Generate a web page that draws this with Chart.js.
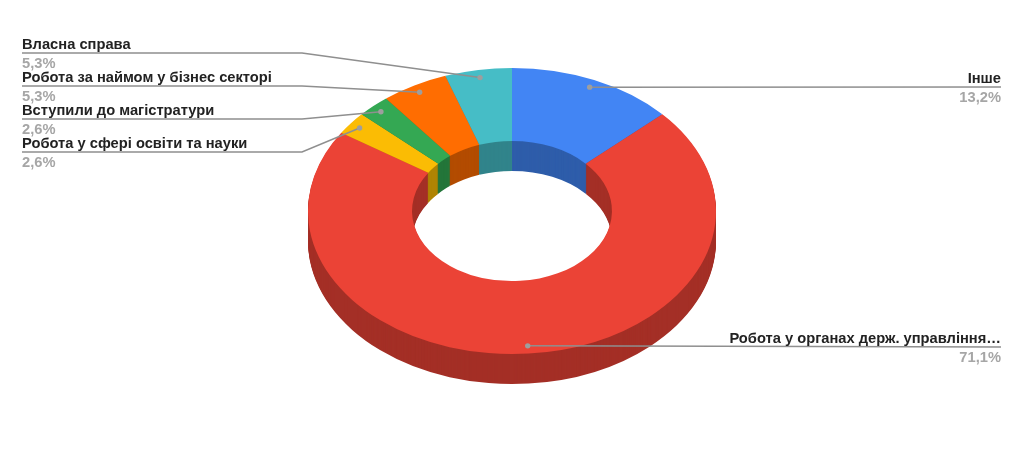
<!DOCTYPE html>
<html>
<head>
<meta charset="utf-8">
<style>
  html, body { margin: 0; padding: 0; background: #fff; }
  canvas { display: block; }
</style>
<script src="https://cdn.jsdelivr.net/npm/chart.js@4/dist/chart.umd.js"></script>
</head>
<body>
<canvas id="chart" width="1024" height="454"></canvas>
<script>
const categories = [
  'Інше',
  'Робота у органах держ. управління…',
  'Робота у сфері освіти та науки',
  'Вступили до магістратури',
  'Робота за наймом у бізнес секторі',
  'Власна справа'
];
const shares = [13.2, 71.1, 2.6, 2.6, 5.3, 5.3];
const valueLabels = ['13,2%', '71,1%', '2,6%', '2,6%', '5,3%', '5,3%'];

const topColors = ['#4285f4', '#eb4336', '#fbbc04', '#34a853', '#ff6d01', '#46bdc6'];
const wallColors = ['#2e5daa', '#a42f26', '#b08403', '#24763a', '#b34c01', '#31848b'];

// where each label sits: side, y of the leader's horizontal run
const labelSide = ['right', 'right', 'left', 'left', 'left', 'left'];
const labelLineY = [87, 347, 152, 119, 86, 53];

const SQUASH = 0.701;   // pie tilt
const DEPTH = 30;       // height of the extruded wall
const LEFT_X = 22, RIGHT_X = 1001, ELBOW_X = 302;
const ANCHOR_R = 0.946; // leader dot, as a part of the outer radius

const donut3d = {
  id: 'donut3d',
  beforeDatasetsDraw(chart) {
    const ctx = chart.ctx;
    const arcs = chart.getDatasetMeta(0).data;
    const cx = arcs[0].x, cy = arcs[0].y;
    ctx.save();
    ctx.translate(cx, cy);
    ctx.scale(1, SQUASH);
    ctx.translate(-cx, -cy);
    // wall: the same arcs stacked downwards, far layer first
    for (let d = DEPTH; d > 0; d--) {
      ctx.save();
      ctx.translate(0, d / SQUASH);
      arcs.forEach((arc, i) => {
        const own = arc.options;
        arc.options = { ...own, backgroundColor: wallColors[i] };
        arc.draw(ctx);
        arc.options = own;
      });
      ctx.restore();
    }
    arcs.forEach(arc => arc.draw(ctx));
    ctx.restore();
    return false;
  },
  afterDraw(chart) {
    const ctx = chart.ctx;
    const arcs = chart.getDatasetMeta(0).data;
    ctx.save();
    ctx.textBaseline = 'alphabetic';
    arcs.forEach((arc, i) => {
      const mid = (arc.startAngle + arc.endAngle) / 2;
      const ax = arc.x + Math.cos(mid) * arc.outerRadius * ANCHOR_R;
      const ay = arc.y + Math.sin(mid) * arc.outerRadius * ANCHOR_R * SQUASH;
      const y = labelLineY[i];
      const right = labelSide[i] === 'right';

      ctx.strokeStyle = '#8f8f8f';
      ctx.lineWidth = 1.5;
      ctx.beginPath();
      ctx.moveTo(ax, ay);
      if (right) {
        ctx.lineTo(RIGHT_X, y);
      } else {
        ctx.lineTo(ELBOW_X, y);
        ctx.lineTo(LEFT_X, y);
      }
      ctx.stroke();

      ctx.fillStyle = '#9e9e9e';
      ctx.beginPath();
      ctx.arc(ax, ay, 2.7, 0, Math.PI * 2);
      ctx.fill();

      const tx = right ? RIGHT_X : LEFT_X;
      ctx.textAlign = right ? 'right' : 'left';
      ctx.font = 'bold 14.7px "Liberation Sans", Arial, sans-serif';
      ctx.fillStyle = '#222222';
      ctx.fillText(categories[i], tx, y - 4);
      ctx.fillStyle = '#a6a6a6';
      ctx.fillText(valueLabels[i], tx, y + 15);
    });
    ctx.restore();
  }
};

new Chart(document.getElementById('chart'), {
  type: 'doughnut',
  data: {
    labels: categories,
    datasets: [{
      data: shares,
      backgroundColor: topColors,
      borderWidth: 0
    }]
  },
  options: {
    responsive: false,
    animation: false,
    cutout: '49%',
    layout: { padding: { top: 7, bottom: 39 } },
    plugins: {
      legend: { display: false },
      tooltip: { enabled: false }
    }
  },
  plugins: [donut3d]
});
</script>
</body>
</html>
